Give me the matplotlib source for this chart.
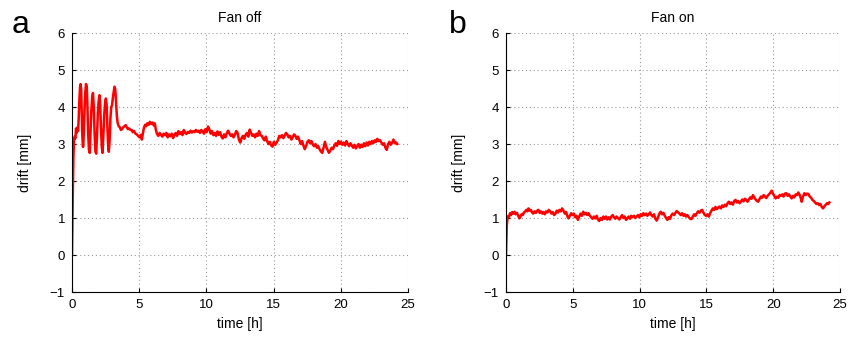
import matplotlib
matplotlib.use("Agg")
import matplotlib.pyplot as plt

plt.rcParams['font.family'] = ['Liberation Sans', 'DejaVu Sans']

# drift with fan off: (time [h], drift [mm])
t_off = [0.00, 0.03, 0.07, 0.11, 0.15, 0.20, 0.25, 0.30, 0.35, 0.40, 0.45, 0.50, 0.55, 0.60, 0.64,
         0.68, 0.72, 0.77, 0.82, 0.86, 0.92, 0.98, 1.04, 1.10, 1.15, 1.20, 1.26, 1.32, 1.38, 1.44,
         1.50, 1.56, 1.62, 1.68, 1.74, 1.80, 1.86, 1.92, 1.98, 2.04, 2.10, 2.16, 2.22, 2.27, 2.33,
         2.40, 2.46, 2.52, 2.58, 2.64, 2.69, 2.74, 2.80, 2.86, 2.92, 2.98, 3.04, 3.10, 3.16, 3.22,
         3.28, 3.34, 3.40, 3.48, 3.56, 3.64, 3.72, 3.80, 3.90, 4.00, 4.08, 4.16, 4.25, 4.35, 4.44,
         4.52, 4.62, 4.72, 4.82, 4.92, 5.02, 5.12, 5.20, 5.28, 5.36, 5.44, 5.52, 5.60, 5.70, 5.80,
         5.90, 6.00, 6.08, 6.16, 6.24, 6.32, 6.42, 6.52, 6.62, 6.72, 6.82, 6.92, 7.02, 7.12, 7.22,
         7.32, 7.42, 7.52, 7.62, 7.72, 7.82, 7.92, 8.02, 8.12, 8.22, 8.32, 8.42, 8.52, 8.62, 8.72,
         8.82, 8.92, 9.02, 9.12, 9.22, 9.32, 9.42, 9.52, 9.62, 9.72, 9.82, 9.92, 10.02, 10.12, 10.22,
         10.32, 10.42, 10.52, 10.62, 10.72, 10.82, 10.92, 11.02, 11.12, 11.22, 11.32, 11.42, 11.52,
         11.62, 11.72, 11.82, 11.92, 12.02, 12.12, 12.22, 12.32, 12.42, 12.52, 12.62, 12.72, 12.82,
         12.92, 13.02, 13.12, 13.22, 13.32, 13.42, 13.52, 13.62, 13.72, 13.82, 13.92, 14.02, 14.12,
         14.22, 14.32, 14.42, 14.52, 14.62, 14.72, 14.82, 14.92, 15.02, 15.12, 15.22, 15.32, 15.42,
         15.52, 15.62, 15.72, 15.82, 15.92, 16.02, 16.12, 16.22, 16.32, 16.42, 16.52, 16.62, 16.72,
         16.82, 16.92, 17.02, 17.12, 17.22, 17.32, 17.42, 17.52, 17.62, 17.72, 17.82, 17.92, 18.02,
         18.12, 18.22, 18.32, 18.42, 18.52, 18.62, 18.72, 18.82, 18.92, 19.02, 19.12, 19.22, 19.32,
         19.42, 19.52, 19.62, 19.72, 19.82, 19.92, 20.02, 20.12, 20.22, 20.32, 20.42, 20.52, 20.62,
         20.72, 20.82, 20.92, 21.02, 21.12, 21.22, 21.32, 21.42, 21.52, 21.62, 21.72, 21.82, 21.92,
         22.02, 22.12, 22.22, 22.32, 22.42, 22.52, 22.62, 22.72, 22.82, 22.92, 23.02, 23.12, 23.22,
         23.32, 23.42, 23.52, 23.62, 23.72, 23.82, 23.92, 24.02, 24.12, 24.20]
d_off = [0.00, 0.90, 1.90, 2.70, 3.10, 3.20, 3.15, 3.42, 3.30, 3.45, 3.35, 3.70, 4.20, 4.55, 4.62,
         4.50, 3.90, 3.20, 2.92, 3.10, 3.80, 4.35, 4.62, 4.55, 4.00, 3.30, 2.85, 2.76, 3.30, 3.90,
         4.25, 4.38, 4.00, 3.30, 2.80, 2.74, 3.20, 3.80, 4.15, 4.32, 4.05, 3.40, 2.90, 2.76, 3.20,
         3.80, 4.10, 4.23, 4.05, 3.40, 2.95, 2.79, 3.10, 3.70, 4.00, 4.05, 4.25, 4.40, 4.55, 4.48,
         4.10, 3.75, 3.56, 3.48, 3.45, 3.38, 3.40, 3.45, 3.48, 3.51, 3.45, 3.40, 3.42, 3.38, 3.38,
         3.32, 3.35, 3.28, 3.26, 3.22, 3.18, 3.25, 3.12, 3.30, 3.45, 3.52, 3.48, 3.56, 3.52, 3.60,
         3.54, 3.58, 3.50, 3.56, 3.38, 3.28, 3.22, 3.30, 3.25, 3.20, 3.28, 3.24, 3.30, 3.18, 3.26,
         3.21, 3.28, 3.16, 3.25, 3.30, 3.22, 3.35, 3.27, 3.32, 3.24, 3.38, 3.30, 3.27, 3.33, 3.30,
         3.36, 3.31, 3.35, 3.32, 3.38, 3.33, 3.36, 3.30, 3.38, 3.34, 3.28, 3.40, 3.32, 3.47, 3.40,
         3.28, 3.35, 3.24, 3.30, 3.22, 3.34, 3.25, 3.32, 3.20, 3.15, 3.26, 3.18, 3.30,
         3.36, 3.28, 3.22, 3.26, 3.18, 3.25, 3.35, 3.30, 3.12, 3.04, 3.16, 3.22, 3.14,
         3.25, 3.30, 3.20, 3.39, 3.30, 3.22, 3.26, 3.18, 3.28, 3.22, 3.35, 3.24, 3.22,
         3.15, 3.10, 3.20, 3.08, 3.00, 3.06, 2.96, 2.93, 3.06, 2.98, 3.04, 3.10, 3.22,
         3.18, 3.24, 3.16, 3.22, 3.30, 3.26, 3.18, 3.22, 3.12, 3.18, 3.26, 3.22, 3.14,
         3.20, 3.10, 3.00, 3.08, 2.96, 2.86, 2.95, 3.06, 3.10, 3.02, 3.08, 2.98, 2.94,
         3.00, 2.90, 2.94, 2.86, 2.80, 2.76, 2.90, 3.06, 2.92, 2.84, 2.76, 2.82, 2.90,
         2.86, 2.96, 3.02, 2.95, 3.08, 3.00, 3.06, 2.98, 3.04, 2.96, 3.08, 3.00, 2.94,
         3.02, 2.96, 2.90, 2.98, 2.88, 2.94, 3.00, 2.90, 2.98, 2.92, 3.02, 2.94, 3.04,
         2.96, 3.06, 3.00, 3.08, 3.02, 3.10, 3.06, 3.14, 3.08, 3.10, 3.04, 2.98, 3.02,
         2.90, 2.84, 3.00, 3.06, 2.98, 3.04, 3.12, 3.02, 3.04, 3.00]

# drift with fan on
t_on = [0.00, 0.03, 0.06, 0.10, 0.15, 0.22, 0.30, 0.38, 0.46, 0.55, 0.64, 0.72, 0.82, 0.92, 1.00,
        1.08, 1.16, 1.26, 1.34, 1.42, 1.52, 1.60, 1.68, 1.76, 1.86, 1.95, 2.04, 2.14, 2.24, 2.34,
        2.42, 2.52, 2.62, 2.72, 2.80, 2.90, 3.00, 3.10, 3.20, 3.30, 3.40, 3.50, 3.60, 3.70, 3.80,
        3.90, 4.00, 4.10, 4.20, 4.30, 4.40, 4.50, 4.60, 4.68, 4.78, 4.88, 4.98, 5.08, 5.18, 5.28,
        5.38, 5.48, 5.58, 5.68, 5.78, 5.88, 5.98, 6.08, 6.18, 6.28, 6.38, 6.48, 6.58, 6.68, 6.78,
        6.88, 6.98, 7.08, 7.18, 7.28, 7.38, 7.48, 7.58, 7.68, 7.78, 7.88, 7.98, 8.08, 8.18, 8.28,
        8.38, 8.48, 8.58, 8.68, 8.78, 8.88, 8.98, 9.08, 9.18, 9.28, 9.38, 9.48, 9.58, 9.68, 9.78,
        9.88, 9.98, 10.08, 10.18, 10.28, 10.38, 10.48, 10.58, 10.68, 10.78, 10.88, 10.98, 11.08,
        11.18, 11.28, 11.38, 11.48, 11.58, 11.68, 11.78, 11.88, 11.98, 12.08, 12.18, 12.28, 12.38,
        12.48, 12.58, 12.68, 12.78, 12.88, 12.98, 13.08, 13.18, 13.28, 13.38, 13.48, 13.58, 13.68,
        13.78, 13.88, 13.98, 14.08, 14.18, 14.28, 14.38, 14.48, 14.58, 14.68, 14.78, 14.88, 14.98,
        15.08, 15.18, 15.28, 15.38, 15.48, 15.58, 15.68, 15.78, 15.88, 15.98, 16.08, 16.18, 16.28,
        16.38, 16.48, 16.58, 16.68, 16.78, 16.88, 16.98, 17.08, 17.18, 17.28, 17.38, 17.48, 17.58,
        17.68, 17.78, 17.88, 17.98, 18.08, 18.18, 18.28, 18.38, 18.48, 18.58, 18.68, 18.78, 18.88,
        18.98, 19.08, 19.18, 19.28, 19.38, 19.48, 19.58, 19.68, 19.78, 19.88, 19.98, 20.08, 20.18,
        20.28, 20.38, 20.48, 20.58, 20.68, 20.78, 20.88, 20.98, 21.08, 21.18, 21.28, 21.38, 21.48,
        21.58, 21.68, 21.78, 21.88, 21.98, 22.08, 22.13, 22.23, 22.33, 22.43, 22.53, 22.63, 22.73,
        22.83, 22.93, 23.03, 23.13, 23.23, 23.33, 23.43, 23.53, 23.63, 23.73, 23.83, 23.93, 24.03,
        24.13, 24.20]
d_on = [0.00, 0.45, 0.80, 0.95, 1.05, 1.02, 1.13, 1.08, 1.16, 1.12, 1.17, 1.10, 1.14, 1.06, 0.99,
        1.04, 1.10, 1.08, 1.15, 1.17, 1.22, 1.18, 1.26, 1.20, 1.22, 1.15, 1.12, 1.18, 1.14, 1.20,
        1.22, 1.14, 1.18, 1.12, 1.16, 1.10, 1.18, 1.15, 1.22, 1.18, 1.12, 1.16, 1.08, 1.12, 1.20,
        1.15, 1.22, 1.18, 1.26, 1.20, 1.12, 1.16, 1.04, 0.99, 1.06, 1.13, 1.08, 1.12, 1.02, 1.06,
        0.95, 1.04, 1.12, 1.06, 1.17, 1.10, 1.14, 1.08, 1.13, 1.06, 1.02, 0.98, 1.04, 0.99, 1.06,
        0.96, 0.92, 1.00, 0.95, 1.04, 0.98, 1.04, 0.96, 1.02, 0.96, 1.04, 1.08, 1.02, 0.98, 1.04,
        1.00, 0.96, 1.02, 1.08, 1.00, 1.04, 0.95, 0.99, 1.04, 0.98, 1.06, 1.02, 1.06, 1.00, 1.04,
        1.08, 1.02, 1.10, 1.06, 1.13, 1.08, 1.12, 1.06, 1.10, 1.15, 1.08, 1.04, 1.10,
        0.98, 0.93, 1.02, 1.12, 1.17, 1.10, 1.14, 1.06, 1.00, 0.95, 1.02, 0.98, 1.08,
        1.12, 1.08, 1.14, 1.19, 1.15, 1.12, 1.08, 1.13, 1.06, 1.10, 1.04, 1.08, 1.02,
        0.98, 0.97, 1.04, 1.10, 1.06, 1.13, 1.18, 1.14, 1.20, 1.22, 1.14, 1.08, 1.06,
        1.10, 1.04, 1.13, 1.20, 1.26, 1.22, 1.30, 1.24, 1.28, 1.31, 1.26, 1.34, 1.30,
        1.36, 1.32, 1.40, 1.44, 1.38, 1.42, 1.36, 1.46, 1.49, 1.42, 1.46, 1.40, 1.44,
        1.50, 1.45, 1.52, 1.49, 1.44, 1.50, 1.56, 1.52, 1.62, 1.56, 1.50, 1.46, 1.44,
        1.52, 1.58, 1.55, 1.62, 1.58, 1.54, 1.60, 1.64, 1.68, 1.74, 1.66, 1.60, 1.53,
        1.58, 1.55, 1.62, 1.60, 1.64, 1.58, 1.66, 1.67, 1.60, 1.64, 1.58, 1.53, 1.60,
        1.56, 1.64, 1.62, 1.69, 1.62, 1.52, 1.44, 1.58, 1.67, 1.62, 1.66, 1.65, 1.58,
        1.55, 1.49, 1.46, 1.42, 1.38, 1.40, 1.35, 1.38, 1.30, 1.26, 1.32, 1.36, 1.40,
        1.38, 1.42]

titles = ['Fan off', 'Fan on']
letters = ['a', 'b']
xticks = [0, 5, 10, 15, 20, 25]
yticks = [-1, 0, 1, 2, 3, 4, 5, 6]

fig = plt.figure(figsize=(8.48, 3.39), dpi=100)
ax1 = fig.add_axes([0.0849, 0.1386, 0.3962, 0.764])
ax2 = fig.add_axes([0.5967, 0.1386, 0.3939, 0.764])

for ax, t, d, title, letter, lx in [(ax1, t_off, d_off, titles[0], letters[0], -0.18),
                                    (ax2, t_on, d_on, titles[1], letters[1], -0.17)]:
    ax.plot(t, d, color='red', linewidth=1.8)
    ax.set_xlim(0, 25)
    ax.set_ylim(-1, 6)
    ax.set_xticks(xticks)
    ax.set_yticks(yticks)
    ax.grid(True, linestyle=(0, (1, 2.5)), color='#999999', linewidth=0.8)
    ax.spines['top'].set_visible(False)
    ax.spines['right'].set_visible(False)
    ax.tick_params(direction='in', length=3, labelsize=9.5, pad=5)
    ax.set_xlabel('time [h]', fontsize=10)
    ax.set_ylabel('drift [mm]', fontsize=10, labelpad=13)
    ax.set_title(title, fontsize=10, pad=8)
    ax.text(lx, 1.0, letter, transform=ax.transAxes, fontsize=23,
            va='baseline', ha='left')

fig.savefig('out.png', dpi=100)
